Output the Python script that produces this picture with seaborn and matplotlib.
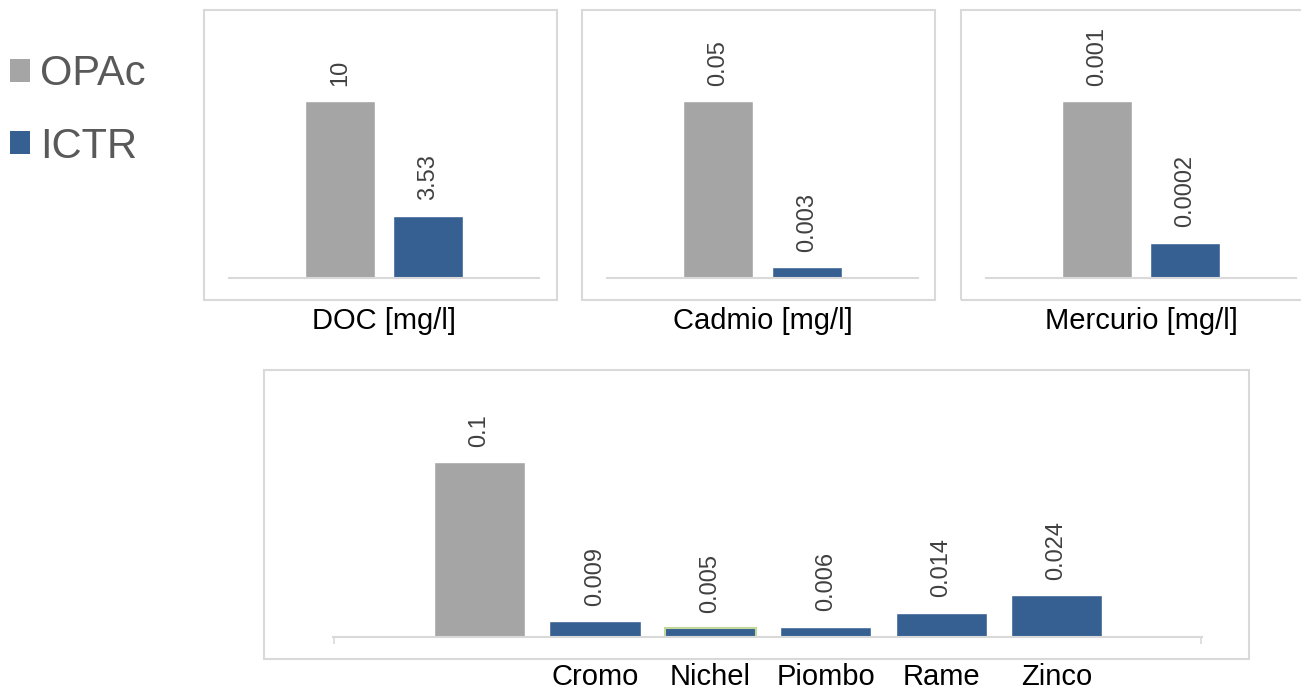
import pandas as pd
import matplotlib.pyplot as plt
import seaborn as sns
from matplotlib.patches import Patch, Rectangle

# values
panel_names = ['DOC [mg/l]', 'Cadmio [mg/l]', 'Mercurio [mg/l]']
opac_top = [10, 0.05, 0.001]
ictr_top = [3.53, 0.003, 0.0002]

metals = ['Cromo', 'Nichel', 'Piombo', 'Rame', 'Zinco']
opac_metals = 0.1
ictr_metals = [0.009, 0.005, 0.006, 0.014, 0.024]

series = ['OPAc', 'ICTR']
colors = {'OPAc': '#A5A5A5', 'ICTR': '#376092'}

W, H = 1301, 692
sns.set_theme(style="white")
plt.rcParams['font.family'] = ['Liberation Sans', 'DejaVu Sans']

fig = plt.figure(figsize=(W / 100, H / 100), dpi=100)


def px_axes(x0, x1, ytop, ybot):
    return fig.add_axes([x0 / W, (H - ybot) / H, (x1 - x0) / W, (ybot - ytop) / H])


def frame(x0, x1, ytop, ybot):
    fig.add_artist(Rectangle((x0 / W, (H - ybot) / H), (x1 - x0) / W, (ybot - ytop) / H,
                             transform=fig.transFigure, fill=False,
                             edgecolor='#D9D9D9', linewidth=1.5))


def style_axes(ax):
    for s in ['top', 'left', 'right']:
        ax.spines[s].set_visible(False)
    ax.spines['bottom'].set_color('#D9D9D9')
    ax.spines['bottom'].set_linewidth(1.5)
    ax.set_yticks([])
    ax.set_xlabel('')
    ax.set_ylabel('')
    ax.patch.set_alpha(0)
    for c in ax.containers:
        ax.bar_label(c, fmt='%g', rotation=90, padding=11, fontsize=17, color='#404040')


# top panels
boxes = [(204, 557), (582, 935), (961, 1315)]
plots = [(229, 539), (607, 918), (986, 1296)]
for i, name in enumerate(panel_names):
    frame(boxes[i][0], boxes[i][1], 10, 300)
    ax = px_axes(plots[i][0], plots[i][1], 20, 278)
    df = pd.DataFrame({'serie': series, 'valore': [opac_top[i], ictr_top[i]]})
    sns.barplot(data=df, x='serie', y='valore', hue='serie', palette=colors,
                dodge=False, width=0.79, saturation=1, legend=False, ax=ax)
    ax.set_xlim(-1.26, 2.26)
    ax.set_ylim(0, opac_top[i] * 1.458)
    style_axes(ax)
    ax.set_xticks([0.5])
    ax.set_xticklabels([name], fontsize=21, color='black')
    ax.tick_params(axis='x', length=0, pad=21)

# bottom panel
frame(264, 1249, 370, 659)
ax = px_axes(333, 1202, 380, 637)
df = pd.DataFrame({'metallo': ['OPAc'] + metals,
                   'valore': [opac_metals] + ictr_metals,
                   'serie': ['OPAc'] + ['ICTR'] * len(metals)})
sns.barplot(data=df, x='metallo', y='valore', hue='serie', palette=colors,
            dodge=False, width=0.79, saturation=1, legend=False, ax=ax)
ax.set_xlim(-1.27, 6.26)
ax.set_ylim(0, opac_metals * 1.469)
style_axes(ax)
ax.set_xticks(range(len(metals) + 1))
ax.set_xticklabels([''] + metals, fontsize=21, color='black')
ax.tick_params(axis='x', which='major', length=0, pad=19)
ax.set_xticks([-1.265, 6.255], minor=True)
ax.tick_params(axis='x', which='minor', bottom=True, length=5, width=1.2,
               color='#D9D9D9', direction='out')
# Nichel bar has a light green outline
nichel_bar = ax.containers[1][1]
nichel_bar.set_edgecolor('#C4D79B')
nichel_bar.set_linewidth(1.5)

# legend
handles = [Patch(facecolor=colors[s], edgecolor='none', label=s) for s in series]
fig.legend(handles=handles, loc='upper left', bbox_to_anchor=(10 / W, (H - 54) / H),
           frameon=False, fontsize=30, labelcolor='#595959', handlelength=0.48,
           handleheight=0.48, handletextpad=0.24, labelspacing=0.78,
           borderpad=0, borderaxespad=0)

plt.savefig('out.png', dpi=100)
plt.close()
